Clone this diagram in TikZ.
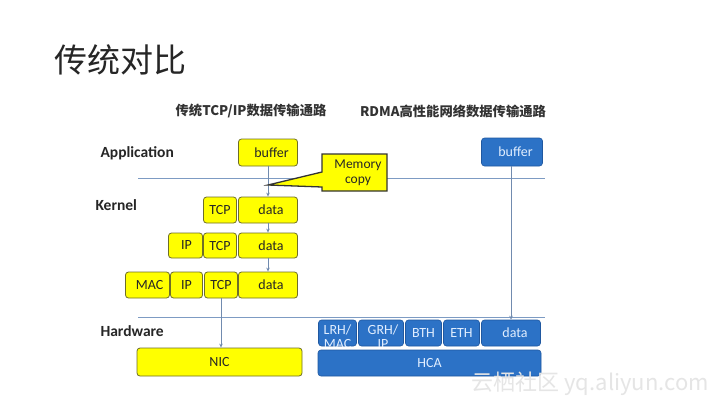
\documentclass[tikz,border=0pt]{standalone}
\usepackage{fontspec}
\setmainfont{Carlito}
\setsansfont{Carlito}
\newfontfamily\cjk{Noto Sans CJK SC}
\usetikzlibrary{arrows.meta}
\definecolor{yfill}{RGB}{255,255,0}
\definecolor{ydraw}{RGB}{110,110,40}
\definecolor{bfill}{RGB}{44,114,198}
\definecolor{bdraw}{RGB}{32,88,160}
\definecolor{btext}{RGB}{225,238,255}
\definecolor{lcol}{RGB}{125,155,195}
\begin{document}
\begin{tikzpicture}[x=1pt,y=-1pt,
  ybox/.style={draw=ydraw,fill=yfill,line width=0.8pt,rounded corners=3pt,inner sep=0pt,
    font=\fontsize{14}{15}\selectfont,text=black!85},
  bbox/.style={draw=bdraw,fill=bfill,line width=0.6pt,rounded corners=3pt,inner sep=0pt,
    font=\fontsize{14}{14}\selectfont,text=btext},
  lvl/.style={anchor=west,font=\fontsize{15.5}{17}\selectfont\bfseries,text=black!85},
  hdr/.style={font=\cjk\fontsize{13.3}{15}\selectfont\bfseries,text=black!80},
  sep/.style={draw=lcol,line width=0.6pt},
  arr/.style={draw=lcol!90!black,line width=0.8pt,-{Stealth[length=4pt,width=3.5pt]}}
]
\useasboundingbox[fill=white] (0,0) rectangle (720,405);

% title
\node[anchor=west,font=\cjk\fontsize{33}{36}\selectfont,text=black!85] (title) at (51,60) {传统对比};

% headers
\node[hdr] (h1) at (251,111) {传统TCP/IP数据传输通路};
\node[hdr] (h2) at (453,111) {RDMA高性能网络数据传输通路};

% level labels
\node[lvl] (app) at (97,153) {Application};
\node[lvl] (ker) at (92,205) {Kernel};
\node[lvl] (hw) at (97,331) {Hardware};

% separators
\coordinate (s1a) at (138,178); \coordinate (s1b) at (545,178);
\coordinate (s2a) at (138,317); \coordinate (s2b) at (545,317);
\draw[sep] (s1a) -- (s1b);
\draw[sep] (s2a) -- (s2b);

% traditional stack
\node[ybox,minimum width=59pt,minimum height=27pt] (ybuf) at (268,152.5) {\hspace{7pt}buffer};
\node[ybox,minimum width=33pt,minimum height=26pt] (r1tcp) at (220,210) {TCP};
\node[ybox,minimum width=59pt,minimum height=26pt] (r1data) at (268,210) {\hspace{6pt}data};

\node[ybox,minimum width=34pt,minimum height=25pt] (r2ip) at (185.5,245.5) {\hspace{2pt}IP};
\node[ybox,minimum width=33pt,minimum height=25pt] (r2tcp) at (220,245.5) {TCP};
\node[ybox,minimum width=59pt,minimum height=25pt] (r2data) at (268,245.5) {\hspace{6pt}data};

\node[ybox,minimum width=44pt,minimum height=26pt] (r3mac) at (147.5,285) {\hspace{4pt}MAC};
\node[ybox,minimum width=32pt,minimum height=26pt] (r3ip) at (186.5,285) {IP};
\node[ybox,minimum width=33pt,minimum height=26pt] (r3tcp) at (221,285) {TCP};
\node[ybox,minimum width=59pt,minimum height=26pt] (r3data) at (268,285) {\hspace{6pt}data};

\node[ybox,minimum width=165pt,minimum height=28pt] (nic) at (219.5,362) {NIC};

\draw[arr] (ybuf.south) -- (r1data.north);
\draw[arr] (r1data.south) -- (r2data.north);
\draw[arr] (r2data.south) -- (r3data.north);
\draw[arr] (r3tcp.south) -- (nic.north -| r3tcp.south);

% callout
\coordinate (tip) at (268,185);
\draw[draw=black!80,fill=yfill,line width=1.3pt,line join=miter]
  (322,154) -- (387,154) -- (387,191) -- (322,191) -- (322,187) -- (tip) -- (322,172) -- cycle;
\node[font=\fontsize{13.5}{15}\selectfont,text=black!85,align=center] (mc) at (358,172.5) {Memory\\copy};

% RDMA stack
\node[bbox,minimum width=61pt,minimum height=28pt] (bbuf) at (512,152) {\hspace{7pt}buffer};
\node[bbox,minimum width=38pt,minimum height=26pt] (lrh) at (337.5,333) {};
\node[bbox,minimum width=45pt,minimum height=26pt] (grh) at (381,333) {};
\begin{scope}
  \clip (lrh.south west) rectangle (lrh.north east);
  \node[font=\fontsize{14}{14}\selectfont,text=btext,align=center,inner sep=0pt] (lrht) at (337.5,336.5) {LRH/\\MAC};
\end{scope}
\begin{scope}
  \clip (grh.south west) rectangle (grh.north east);
  \node[font=\fontsize{14}{14}\selectfont,text=btext,align=center,inner sep=0pt] (grht) at (383,336.5) {GRH/\\IP};
\end{scope}
\node[bbox,minimum width=36pt,minimum height=26pt] (bth) at (423.5,333) {BTH};
\node[bbox,minimum width=36pt,minimum height=26pt] (eth) at (461.5,333) {ETH};
\node[bbox,minimum width=59pt,minimum height=26pt] (bdata) at (511,333) {\hspace{8pt}data};
\node[bbox,minimum width=223pt,minimum height=26pt] (hca) at (429.5,363) {HCA};

\draw[arr] (bbuf.south -| bdata.north) -- (bdata.north);

% watermark
\node[anchor=west,font=\cjk\fontsize{22}{24}\selectfont,text=black!10] (wm) at (468,384) {云栖社区 yq.aliyun.com};
\end{tikzpicture}
\end{document}
